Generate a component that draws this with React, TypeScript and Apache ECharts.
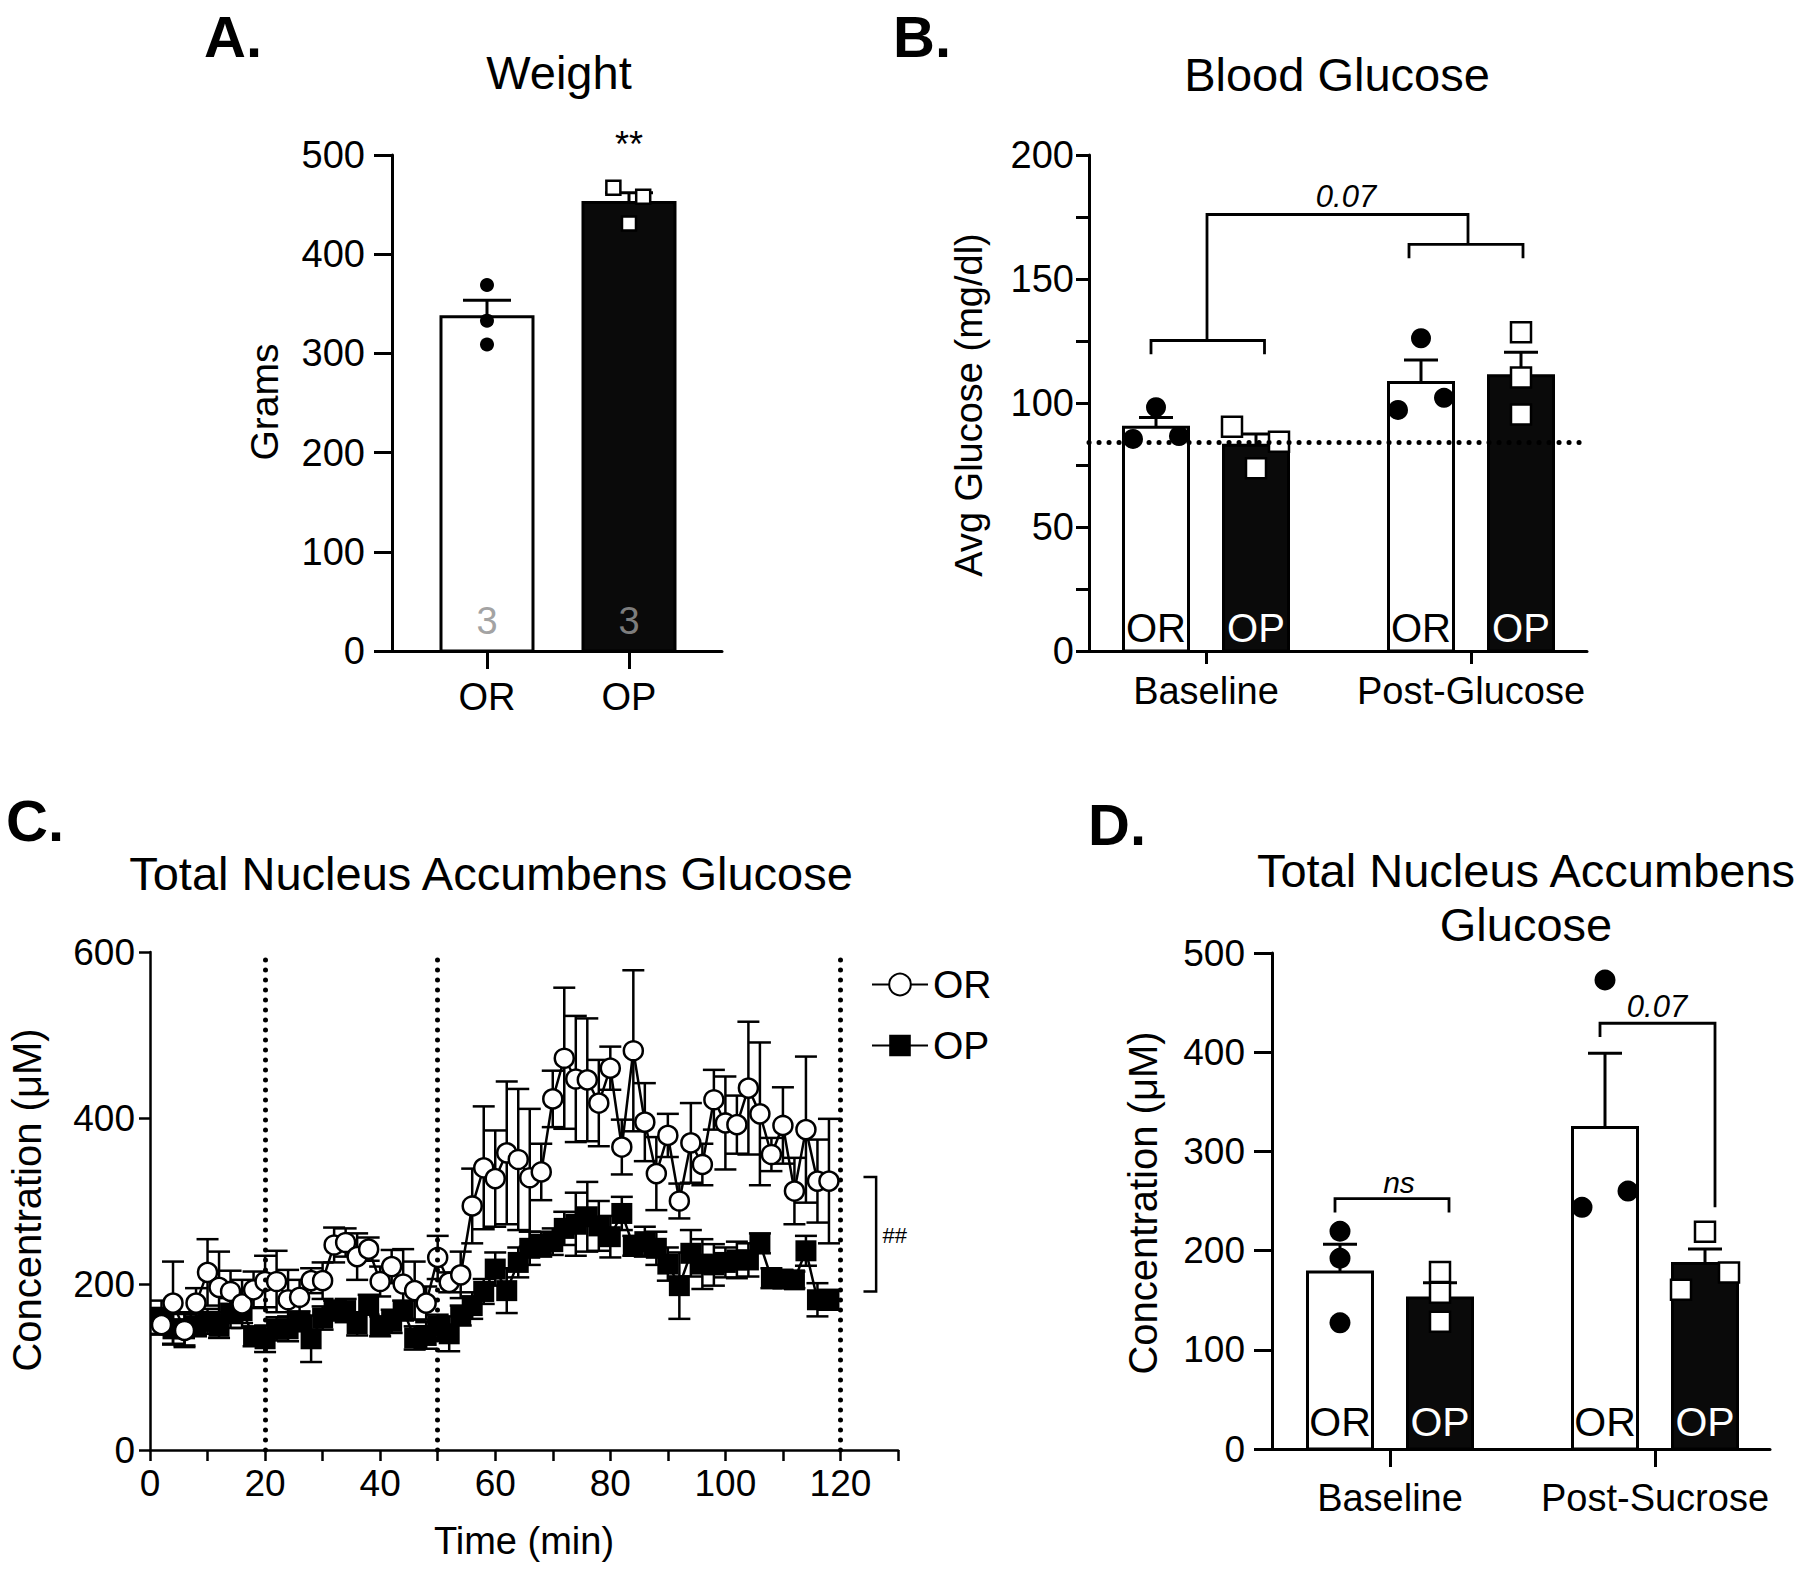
import React, { useEffect, useRef } from 'react';
import * as echarts from 'echarts';

const FF = '"Liberation Sans", Arial, Helvetica, sans-serif';

// ---------------- Panel A: Weight ----------------
const weightGroups = ['OR', 'OP'];
const weightMean = [337, 452];
const weightSem = [16.5, 10];
const weightN = ['3', '3'];
const weightOR = [369, 333, 309];
const weightOP = [467, 458, 431];
const weightSig = '**';

// ---------------- Panel B: Blood glucose ----------------
const bgTimepoints = ['Baseline', 'Post-Glucose'];
const bgMeanOR = [90.2, 108.3];
const bgSemOR = [4, 9];
const bgMeanOP = [83, 111];
const bgSemOP = [4.5, 9.5];
const bgBaselineOR = [85.5, 98.3, 86.7];
const bgPostOR = [97.2, 126.1, 102.1];
const bgBaselineOP = [90.4, 73.7, 84.4];
const bgPostOP = [128.5, 110.3, 95.4];
const bgReference = 84;
const bgP = '0.07';

// ---------------- Panel C: NAc glucose time course ----------------
const timeMin = [2, 4, 6, 8, 10, 12, 14, 16, 18, 20, 22, 24, 26, 28, 30, 32, 34, 36, 38, 40, 42, 44, 46, 48, 50, 52, 54, 56, 58, 60, 62, 64, 66, 68, 70, 72, 74, 76, 78, 80, 82, 84, 86, 88, 90, 92, 94, 96, 98, 100, 102, 104, 106, 108, 110, 112, 114, 116, 118];
const nacOR = [151, 177, 144, 177, 214, 196, 191, 176, 193, 203, 203, 181, 184, 204, 204, 247, 250, 233, 242, 203, 221, 200, 192, 177, 232, 202, 211, 294, 340, 327, 358, 350, 328, 335, 423, 472, 447, 446, 418, 460, 365, 481, 395, 333, 379, 300, 370, 344, 422, 394, 392, 436, 405, 356, 391, 312, 386, 324, 324];
const nacORsem = [12, 50, 20, 18, 40, 43, 25, 29, 22, 31, 37, 36, 21, 15, 22, 21, 17, 28, 14, 18, 20, 42, 35, 20, 26, 12, 28, 45, 74, 58, 86, 85, 83, 34, 34, 85, 76, 74, 52, 26, 33, 97, 47, 44, 26, 21, 48, 25, 36, 56, 35, 80, 86, 20, 46, 40, 88, 50, 75];
const nacOP = [160, 146, 146, 149, 155, 149, 165, 168, 137, 134, 146, 146, 155, 134, 159, 168, 168, 152, 175, 149, 155, 168, 135, 138, 149, 140, 162, 174, 191, 218, 192, 226, 243, 248, 251, 267, 272, 281, 270, 257, 285, 246, 251, 243, 224, 198, 237, 224, 223, 226, 229, 229, 249, 207, 206, 205, 240, 181, 181];
const nacOPsem = [20, 18, 20, 12, 15, 14, 18, 15, 12, 16, 14, 15, 12, 28, 14, 12, 14, 14, 12, 12, 14, 12, 14, 16, 14, 21, 12, 16, 15, 20, 27, 18, 20, 15, 16, 20, 38, 42, 30, 25, 20, 12, 18, 20, 20, 40, 28, 30, 25, 18, 22, 20, 12, 12, 10, 10, 18, 20, 12];
const eventTimes = [20, 50, 120];
const cSig = '##';

// ---------------- Panel D: NAc glucose summary ----------------
const nacTimepoints = ['Baseline', 'Post-Sucrose'];
const nacMeanOR = [178.5, 324];
const nacSemOR = [28, 75];
const nacMeanOP = [152.3, 187];
const nacSemOP = [15.4, 14.5];
const nacBaselineOR = [219.5, 192.3, 127.2];
const nacPostOR = [472.8, 243.6, 260];
const nacBaselineOP = [178.5, 157.4, 128.2];
const nacPostOP = [219, 160.5, 178];
const dPns = 'ns';
const dP = '0.07';

// ---------------- layout (positions only) ----------------
const A_POS = [0, 1];
const A_JIT_OR = [0, 0, 0];
const A_JIT_OP = [-0.11, 0.1, 0];
const POS_OR = [0, 2.65];
const POS_OP = [1, 3.65];
const GROUP_TICKS = [0.5, 3.15];
const B_JIT = {
  or: [[-0.23, 0, 0.23], [-0.23, 0, 0.23]],
  op: [[-0.24, 0, 0.23], [0, 0, 0]],
};
const D_JIT = {
  or: [[0, 0, 0], [0, -0.23, 0.23]],
  op: [[0, 0, 0], [0, -0.24, 0.24]],
};

const B_LINES = [
  [[-0.05, 119.7], [-0.05, 125.2], [1.085, 125.2], [1.085, 119.7]],
  [[2.53, 158.4], [2.53, 164], [3.67, 164], [3.67, 158.4]],
  [[0.51, 125.2], [0.51, 176], [3.12, 176], [3.12, 164]],
];
const B_TEXTS = [{ x: 1.9, y: 183.4, text: bgP, font: `italic 31px ${FF}` }];
const D_LINES = [
  [[-0.05, 238.5], [-0.05, 252.3], [1.09, 252.3], [1.09, 238.5]],
  [[2.6, 415.4], [2.6, 429.2], [3.75, 429.2], [3.75, 243.6]],
];
const D_TEXTS = [
  { x: 0.59, y: 269, text: dPns, font: `italic 30px ${FF}` },
  { x: 3.17, y: 446, text: dP, font: `italic 31px ${FF}` },
];
const C_LINES = [[[124, 329], [126.2, 329], [126.2, 191], [124, 191]]];
const C_TEXTS = [{ x: 127.3, y: 259, text: cSig, font: `22px ${FF}`, align: 'left' }];
const A_TEXTS = [{ x: 1, y: 511, text: weightSig, font: `36px ${FF}` }];

function barRenderer(labels: string[], width: number, capHalf: number, fill: string, labelColor: string, labelSize: number, labelOffset: number, lw: number) {
  return (params: any, api: any) => {
    const x = api.value(0);
    const m = api.value(1);
    const s = api.value(2);
    const base = api.coord([x, 0]);
    const top = api.coord([x, m]);
    const err = api.coord([x, m + s]);
    const st = { stroke: '#000', lineWidth: lw };
    return {
      type: 'group',
      children: [
        { type: 'line', shape: { x1: top[0], y1: top[1], x2: err[0], y2: err[1] }, style: st },
        { type: 'line', shape: { x1: err[0] - capHalf, y1: err[1], x2: err[0] + capHalf, y2: err[1] }, style: st },
        { type: 'rect', shape: { x: base[0] - width / 2, y: top[1], width, height: base[1] - top[1] }, style: { fill, stroke: '#000', lineWidth: lw } },
        {
          type: 'text', x: base[0], y: base[1] - labelOffset,
          style: { text: labels[params.dataIndex], fill: labelColor, font: `${labelSize}px ${FF}`, textAlign: 'center', textVerticalAlign: 'middle' },
        },
      ],
    };
  };
}

function errRenderer(capHalf: number, lw: number) {
  return (params: any, api: any) => {
    const x = api.value(0);
    const m = api.value(1);
    const s = api.value(2);
    const hi = api.coord([x, m + s]);
    const lo = api.coord([x, m - s]);
    const st = { stroke: '#000', lineWidth: lw };
    return {
      type: 'group',
      children: [
        { type: 'line', shape: { x1: hi[0], y1: hi[1], x2: lo[0], y2: lo[1] }, style: st },
        { type: 'line', shape: { x1: hi[0] - capHalf, y1: hi[1], x2: hi[0] + capHalf, y2: hi[1] }, style: st },
        { type: 'line', shape: { x1: lo[0] - capHalf, y1: lo[1], x2: lo[0] + capHalf, y2: lo[1] }, style: st },
      ],
    };
  };
}

function annotRenderer(lines: number[][][], texts: any[], lw: number) {
  return (params: any, api: any) => {
    const children: any[] = [];
    lines.forEach((pl) => {
      children.push({ type: 'polyline', shape: { points: pl.map((p) => api.coord(p)) }, style: { stroke: '#000', lineWidth: lw, fill: 'none' } });
    });
    texts.forEach((t) => {
      const p = api.coord([t.x, t.y]);
      children.push({ type: 'text', x: p[0], y: p[1], style: { text: t.text, fill: '#000', font: t.font, textAlign: t.align || 'center', textVerticalAlign: 'middle' } });
    });
    return { type: 'group', children };
  };
}

const pts = (vals: number[], pos: number, jit: number[]) => vals.map((v, k) => [pos + jit[k], v]);

function axisCommon(lw: number, tickLen: number, margin: number, fontSize: number) {
  return {
    splitLine: { show: false },
    axisLine: { show: true, onZero: false, lineStyle: { color: '#000', width: lw } },
    axisTick: { show: true, length: tickLen, lineStyle: { color: '#000', width: lw } },
    axisLabel: { show: true, color: '#000', fontSize, fontFamily: FF, margin },
  };
}

function txt(text: string, x: number, y: number, size: number, opts: any = {}) {
  return {
    type: 'text', x, y, rotation: opts.rotation || 0, silent: true,
    style: {
      text, fill: '#000', font: `${opts.weight || 'normal'} ${size}px ${FF}`,
      textAlign: opts.align || 'center', textVerticalAlign: 'middle', lineHeight: opts.lineHeight,
    },
  };
}

const circleBlack = { symbol: 'circle', itemStyle: { color: '#000', opacity: 1 } };
const squareWhite = { symbol: 'rect', itemStyle: { color: '#fff', borderColor: '#000', borderWidth: 2.5, opacity: 1 } };
const dotted = (w: number, gap: number) => ({ color: '#000', width: w, type: [0.1, gap], cap: 'round', opacity: 1 });

function buildOption() {
  const A = axisCommon(3, 18, 27, 38);
  const B = axisCommon(3, 13, 15, 38);
  const C = axisCommon(2.5, 11, 15, 37);
  const D = axisCommon(3, 18, 27, 37);

  const xAxis = [
    {
      gridIndex: 0, type: 'value', min: -0.669, max: 1.655, ...A,
      axisTick: { ...A.axisTick, customValues: A_POS },
      axisLabel: { ...A.axisLabel, margin: 27, customValues: A_POS, formatter: (v: number) => weightGroups[Math.round(v)] },
    },
    {
      gridIndex: 1, type: 'value', min: -0.67, max: 4.31, ...B,
      axisTick: { ...B.axisTick, customValues: GROUP_TICKS },
      axisLabel: { ...B.axisLabel, margin: 21, customValues: GROUP_TICKS, formatter: (v: number) => bgTimepoints[GROUP_TICKS.indexOf(v)] },
    },
    {
      gridIndex: 2, type: 'value', min: 0, max: 130, interval: 10, ...C,
      axisLabel: { ...C.axisLabel, margin: 15, formatter: (v: number) => (v % 20 === 0 && v <= 120 ? String(v) : '') },
    },
    {
      gridIndex: 3, type: 'value', min: -0.68, max: 4.3, ...D,
      axisTick: { ...D.axisTick, customValues: GROUP_TICKS },
      axisLabel: { ...D.axisLabel, fontSize: 38, margin: 30, customValues: GROUP_TICKS, formatter: (v: number) => nacTimepoints[GROUP_TICKS.indexOf(v)] },
    },
  ];
  const yAxis = [
    { gridIndex: 0, type: 'value', min: 0, max: 500, interval: 100, ...A },
    {
      gridIndex: 1, type: 'value', min: 0, max: 200, interval: 25, ...B,
      axisLabel: { ...B.axisLabel, formatter: (v: number) => (v % 50 === 0 ? String(v) : '') },
    },
    { gridIndex: 2, type: 'value', min: 0, max: 600, interval: 200, ...C },
    { gridIndex: 3, type: 'value', min: 0, max: 500, interval: 100, ...D },
  ];

  const series: any[] = [
    // ---- A ----
    {
      name: 'Weight bars', type: 'custom', xAxisIndex: 0, yAxisIndex: 0, silent: true,
      data: [[A_POS[0], weightMean[0], weightSem[0]]],
      renderItem: barRenderer([weightN[0]], 92, 24, '#fff', '#a3a3a3', 38, 30, 3),
    },
    {
      name: 'Weight bars OP', type: 'custom', xAxisIndex: 0, yAxisIndex: 0, silent: true,
      data: [[A_POS[1], weightMean[1], weightSem[1]]],
      renderItem: barRenderer([weightN[1]], 92, 24, '#0a0a0a', '#7d7d7d', 38, 30, 3),
    },
    { name: 'Weight OR pts', type: 'scatter', xAxisIndex: 0, yAxisIndex: 0, silent: true, symbolSize: 14, ...circleBlack, data: pts(weightOR, A_POS[0], A_JIT_OR) },
    { name: 'Weight OP pts', type: 'scatter', xAxisIndex: 0, yAxisIndex: 0, silent: true, symbolSize: 14, ...squareWhite, data: pts(weightOP, A_POS[1], A_JIT_OP) },
    { name: 'A annot', type: 'custom', xAxisIndex: 0, yAxisIndex: 0, silent: true, data: [[0, 0]], renderItem: annotRenderer([], A_TEXTS, 3) },

    // ---- B ----
    {
      name: 'BG OR bars', type: 'custom', xAxisIndex: 1, yAxisIndex: 1, silent: true,
      data: bgMeanOR.map((m, i) => [POS_OR[i], m, bgSemOR[i]]),
      renderItem: barRenderer(['OR', 'OR'], 65, 17, '#fff', '#000', 40, 23.5, 3),
    },
    {
      name: 'BG OP bars', type: 'custom', xAxisIndex: 1, yAxisIndex: 1, silent: true,
      data: bgMeanOP.map((m, i) => [POS_OP[i], m, bgSemOP[i]]),
      renderItem: barRenderer(['OP', 'OP'], 65, 17, '#0a0a0a', '#fff', 40, 23.5, 3),
    },
    {
      name: 'BG reference', type: 'line', xAxisIndex: 1, yAxisIndex: 1, silent: true, data: [],
      markLine: {
        silent: true, symbol: 'none', label: { show: false }, animation: false,
        lineStyle: dotted(5, 9.9),
        data: [{ yAxis: bgReference }],
      },
    },
    {
      name: 'BG OR pts', type: 'scatter', xAxisIndex: 1, yAxisIndex: 1, silent: true, symbolSize: 20, ...circleBlack,
      data: [...pts(bgBaselineOR, POS_OR[0], B_JIT.or[0]), ...pts(bgPostOR, POS_OR[1], B_JIT.or[1])],
    },
    {
      name: 'BG OP pts', type: 'scatter', xAxisIndex: 1, yAxisIndex: 1, silent: true, symbolSize: 20, ...squareWhite,
      data: [...pts(bgBaselineOP, POS_OP[0], B_JIT.op[0]), ...pts(bgPostOP, POS_OP[1], B_JIT.op[1])],
    },
    { name: 'B annot', type: 'custom', xAxisIndex: 1, yAxisIndex: 1, silent: true, data: [[0, 0]], renderItem: annotRenderer(B_LINES, B_TEXTS, 2.8) },

    // ---- C ----
    {
      name: 'C events', type: 'line', xAxisIndex: 2, yAxisIndex: 2, silent: true, data: [],
      markLine: {
        silent: true, symbol: 'none', label: { show: false }, animation: false,
        lineStyle: dotted(5, 9.9),
        data: eventTimes.map((t) => ({ xAxis: t })),
      },
    },
    {
      name: 'OP sem', type: 'custom', xAxisIndex: 2, yAxisIndex: 2, silent: true,
      data: timeMin.map((t, i) => [t, nacOP[i], nacOPsem[i]]), renderItem: errRenderer(11, 2.5),
    },
    {
      name: 'OP', type: 'line', xAxisIndex: 2, yAxisIndex: 2, silent: true,
      data: timeMin.map((t, i) => [t, nacOP[i]]),
      symbol: 'rect', symbolSize: 21, showSymbol: true, showAllSymbol: true,
      itemStyle: { color: '#000', borderColor: '#000', borderWidth: 0, opacity: 1 },
      lineStyle: { color: '#000', width: 2.5 },
    },
    {
      name: 'OR sem', type: 'custom', xAxisIndex: 2, yAxisIndex: 2, silent: true,
      data: timeMin.map((t, i) => [t, nacOR[i], nacORsem[i]]), renderItem: errRenderer(11, 2.5),
    },
    {
      name: 'OR', type: 'line', xAxisIndex: 2, yAxisIndex: 2, silent: true,
      data: timeMin.map((t, i) => [t, nacOR[i]]),
      symbol: 'circle', symbolSize: 19, showSymbol: true, showAllSymbol: true,
      itemStyle: { color: '#fff', borderColor: '#000', borderWidth: 2.5, opacity: 1 },
      lineStyle: { color: '#000', width: 2.5 },
    },
    { name: 'C annot', type: 'custom', xAxisIndex: 2, yAxisIndex: 2, silent: true, data: [[0, 0]], renderItem: annotRenderer(C_LINES, C_TEXTS, 2.5) },

    // ---- D ----
    {
      name: 'NAc OR bars', type: 'custom', xAxisIndex: 3, yAxisIndex: 3, silent: true,
      data: nacMeanOR.map((m, i) => [POS_OR[i], m, nacSemOR[i]]),
      renderItem: barRenderer(['OR', 'OR'], 65, 17, '#fff', '#000', 41, 27, 3),
    },
    {
      name: 'NAc OP bars', type: 'custom', xAxisIndex: 3, yAxisIndex: 3, silent: true,
      data: nacMeanOP.map((m, i) => [POS_OP[i], m, nacSemOP[i]]),
      renderItem: barRenderer(['OP', 'OP'], 65, 17, '#0a0a0a', '#fff', 41, 27, 3),
    },
    {
      name: 'NAc OR pts', type: 'scatter', xAxisIndex: 3, yAxisIndex: 3, silent: true, symbolSize: 21, ...circleBlack,
      data: [...pts(nacBaselineOR, POS_OR[0], D_JIT.or[0]), ...pts(nacPostOR, POS_OR[1], D_JIT.or[1])],
    },
    {
      name: 'NAc OP pts', type: 'scatter', xAxisIndex: 3, yAxisIndex: 3, silent: true, symbolSize: 20, ...squareWhite,
      data: [...pts(nacBaselineOP, POS_OP[0], D_JIT.op[0]), ...pts(nacPostOP, POS_OP[1], D_JIT.op[1])],
    },
    { name: 'D annot', type: 'custom', xAxisIndex: 3, yAxisIndex: 3, silent: true, data: [[0, 0]], renderItem: annotRenderer(D_LINES, D_TEXTS, 2.8) },
  ];

  return {
    animation: false,
    backgroundColor: '#fff',
    grid: [
      { left: 392, top: 155, width: 330, height: 496 },
      { left: 1089, top: 155, width: 498, height: 496 },
      { left: 150, top: 952, width: 748, height: 498 },
      { left: 1272, top: 953, width: 498, height: 496 },
    ],
    legend: {
      data: ['OR', 'OP'], orient: 'vertical', left: 866, top: 960, itemWidth: 56, itemHeight: 27, itemGap: 22,
      selectedMode: false, padding: 5, textStyle: { fontSize: 39, fontFamily: FF, color: '#000' },
    },
    xAxis, yAxis, series,
    graphic: [
      txt('A.', 204, 36, 58, { weight: 'bold', align: 'left' }),
      txt('B.', 893, 36, 58, { weight: 'bold', align: 'left' }),
      txt('C.', 6, 820, 58, { weight: 'bold', align: 'left' }),
      txt('D.', 1088, 824, 58, { weight: 'bold', align: 'left' }),
      txt('Weight', 559, 72, 47),
      txt('Blood Glucose', 1337, 74, 47),
      txt('Total Nucleus Accumbens Glucose', 491, 873, 47),
      txt('Total Nucleus Accumbens\nGlucose', 1526, 897, 47, { lineHeight: 54 }),
      txt('Grams', 264, 402, 39, { rotation: Math.PI / 2 }),
      txt('Avg Glucose (mg/dl)', 969, 405, 38, { rotation: Math.PI / 2 }),
      txt('Concentration (\u03bcM)', 27, 1200, 40, { rotation: Math.PI / 2 }),
      txt('Concentration (\u03bcM)', 1143, 1203, 40, { rotation: Math.PI / 2 }),
      txt('Time (min)', 524, 1541, 38),
    ],
  };
}

export default function App() {
  const ref = useRef<HTMLDivElement>(null);
  useEffect(() => {
    if (!ref.current) return;
    const chart = echarts.init(ref.current, null, { renderer: 'svg' });
    chart.setOption(buildOption() as any);
    return () => chart.dispose();
  }, []);
  return <div ref={ref} style={{ position: 'absolute', left: 0, top: 0, width: 1800, height: 1579, background: '#fff' }} />;
}
